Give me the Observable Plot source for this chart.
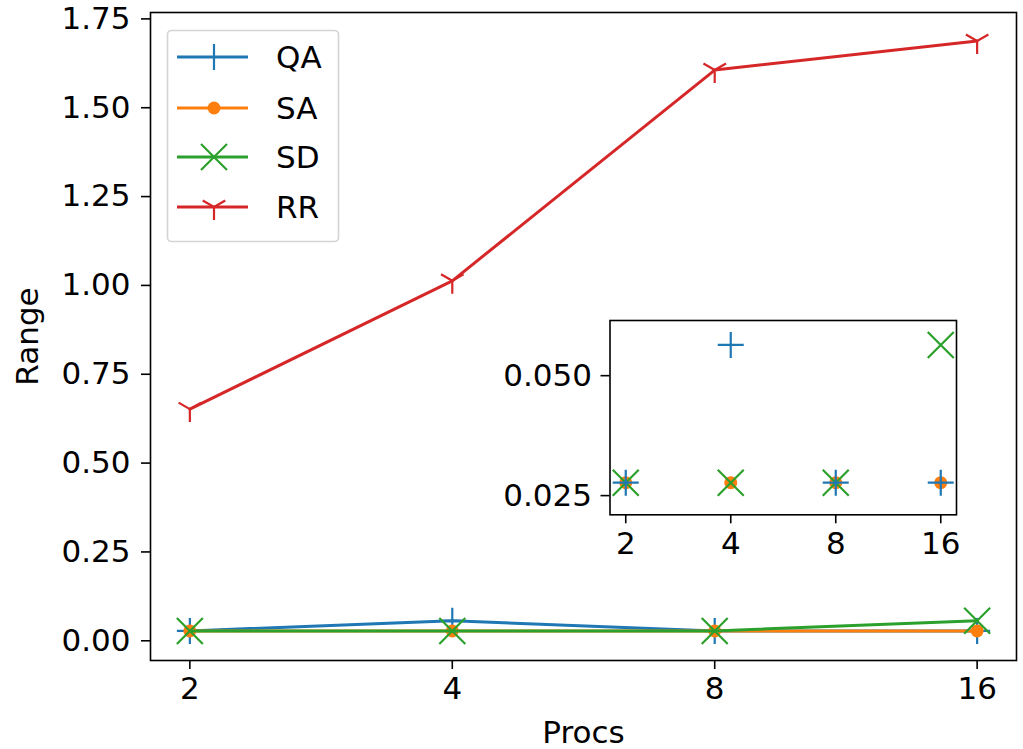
<!DOCTYPE html>
<html>
<head>
<meta charset="utf-8">
<script src="https://cdn.jsdelivr.net/npm/d3@7"></script>
<script src="https://cdn.jsdelivr.net/npm/@observablehq/plot@0.6"></script>
<style>
  body { margin: 0; background: white; }
  #chart { position: relative; width: 1023px; height: 749px; font-family: "DejaVu Sans", sans-serif; color: black; }
  #chart svg { position: absolute; left: 0; top: 0; }
</style>
</head>
<body>
<div id="chart"></div>
<script>
// ---- data ----
const procs = [2, 4, 8, 16];
const seriesNames = ["QA", "SA", "SD", "RR"];
const qaValues = [0.0277, 0.0564, 0.0277, 0.0277];
const saValues = [0.0277, 0.0277, 0.0277, 0.0277];
const sdValues = [0.0277, 0.0277, 0.0277, 0.0564];
const rrValues = [0.652, 1.013, 1.606, 1.688];
const seriesColors = ["#1f77b4", "#ff7f0e", "#2ca02c", "#d62728"];
const yTicks = [0, 0.25, 0.5, 0.75, 1.0, 1.25, 1.5, 1.75];
const xTicks = [2, 4, 8, 16];
const insetYTicks = [0.025, 0.05];
const xLabel = "Procs";
const yLabel = "Range";

const seriesValues = [qaValues, saValues, sdValues, rrValues];
const rows = seriesNames.map((s, i) => procs.map((p, j) => ({series: s, procs: p, value: seriesValues[i][j]})));

// ---- marker symbols (matplotlib-like) ----
const plusSym = {draw(ctx, size) { const r = Math.sqrt(size / Math.PI);
  ctx.moveTo(-r, 0); ctx.lineTo(r, 0); ctx.moveTo(0, -r); ctx.lineTo(0, r); }};
const timesSym = {draw(ctx, size) { const r = Math.sqrt(size / Math.PI);
  ctx.moveTo(-r, -r); ctx.lineTo(r, r); ctx.moveTo(-r, r); ctx.lineTo(r, -r); }};
const triDownSym = {draw(ctx, size) { const r = Math.sqrt(size / Math.PI);
  ctx.moveTo(0, 0); ctx.lineTo(0, r); ctx.moveTo(0, 0); ctx.lineTo(-0.866 * r, -0.5 * r);
  ctx.moveTo(0, 0); ctx.lineTo(0.866 * r, -0.5 * r); }};
const markerSpec = [
  {symbol: plusSym, r: 13, filled: false},
  {symbol: "circle", r: 6.5, filled: true},
  {symbol: timesSym, r: 13, filled: false},
  {symbol: triDownSym, r: 13, filled: false}
];
function dotFor(i, data, extra = {}) {
  const m = markerSpec[i];
  return Plot.dot(data, {
    x: "procs", y: "value", symbol: () => m.symbol, r: m.r,
    fill: m.filled ? seriesColors[i] : "none",
    stroke: m.filled ? "none" : seriesColors[i],
    strokeWidth: 2.2, ...extra
  });
}

const FS = 31;
const fontStyle = {fontFamily: "DejaVu Sans", fontSize: FS + "px", background: "transparent", overflow: "visible", color: "black"};
const oct = 0.15;

// ---- main chart ----
const mainMarks = [
  Plot.axisY({ticks: yTicks, tickFormat: d3.format(".2f"), tickSize: 9, tickPadding: 11, fontSize: FS, strokeWidth: 1.6, label: null}),
  Plot.axisX({ticks: xTicks, tickFormat: d => String(d), tickSize: 9, tickPadding: 7, fontSize: FS, strokeWidth: 1.6, label: null}),
  Plot.text([xLabel], {frameAnchor: "bottom", dy: 82, fontSize: FS, fill: "black"}),
  Plot.text([yLabel], {frameAnchor: "left", textAnchor: "middle", dx: -122, rotate: -90, fontSize: FS, fill: "black"})
];
seriesNames.forEach((s, i) => {
  mainMarks.push(Plot.line(rows[i], {x: "procs", y: "value", stroke: seriesColors[i], strokeWidth: 3}));
  mainMarks.push(dotFor(i, rows[i]));
});
mainMarks.push(Plot.frame({stroke: "black", strokeWidth: 1.6}));

const main = Plot.plot({
  width: 1023, height: 749,
  marginLeft: 150, marginRight: 7, marginTop: 12, marginBottom: 89,
  style: fontStyle,
  x: {type: "log", base: 2, domain: [2 * Math.pow(2, -oct), 16 * Math.pow(2, oct)]},
  y: {domain: [-0.0555, 1.768]},
  marks: mainMarks
});
document.getElementById("chart").appendChild(main);

// ---- inset ----
const insetOrder = [1, 2, 0]; // SA, SD, QA
const insetMarks = [
  Plot.frame({fill: "white", stroke: "none"}),
  Plot.axisY({ticks: insetYTicks, tickFormat: d3.format(".3f"), tickSize: 9, tickPadding: 9, fontSize: FS, strokeWidth: 1.6, label: null}),
  Plot.axisX({ticks: xTicks, tickFormat: d => String(d), tickSize: 9, tickPadding: 8, fontSize: FS, strokeWidth: 1.6, label: null})
];
insetOrder.forEach(i => insetMarks.push(dotFor(i, rows[i], {clip: "frame"})));
insetMarks.push(Plot.frame({stroke: "black", strokeWidth: 1.6}));

const inset = Plot.plot({
  width: 1023, height: 749,
  marginLeft: 609.5, marginRight: 67, marginTop: 320, marginBottom: 234.7,
  style: fontStyle,
  x: {type: "log", base: 2, domain: [2 * Math.pow(2, -oct), 16 * Math.pow(2, oct)]},
  y: {domain: [0.021, 0.0615]},
  marks: insetMarks
});
document.getElementById("chart").appendChild(inset);

// ---- legend ----
const leg = d3.select("#chart").append("svg")
  .attr("width", 1023).attr("height", 749)
  .style("font-family", "DejaVu Sans");
leg.append("rect").attr("x", 167.5).attr("y", 30.5).attr("width", 171).attr("height", 211)
  .attr("rx", 4).attr("fill", "white").attr("fill-opacity", 0.8)
  .attr("stroke", "#d4d4d4").attr("stroke-width", 1.6);
const legYs = [57, 108, 157, 207];
seriesNames.forEach((s, i) => {
  const g = leg.append("g");
  const y = legYs[i];
  g.append("line").attr("x1", 177).attr("x2", 248).attr("y1", y).attr("y2", y)
    .attr("stroke", seriesColors[i]).attr("stroke-width", 3);
  const m = markerSpec[i];
  const path = d3.symbol(typeof m.symbol === "string" ? d3.symbolCircle : m.symbol, Math.PI * m.r * m.r)();
  g.append("path").attr("d", path).attr("transform", `translate(214,${y})`)
    .attr("fill", m.filled ? seriesColors[i] : "none")
    .attr("stroke", m.filled ? "none" : seriesColors[i]).attr("stroke-width", 2.2);
  g.append("text").attr("x", 276).attr("y", y).attr("dy", "0.36em")
    .attr("font-size", FS).attr("fill", "black").text(s);
});
</script>
</body>
</html>
